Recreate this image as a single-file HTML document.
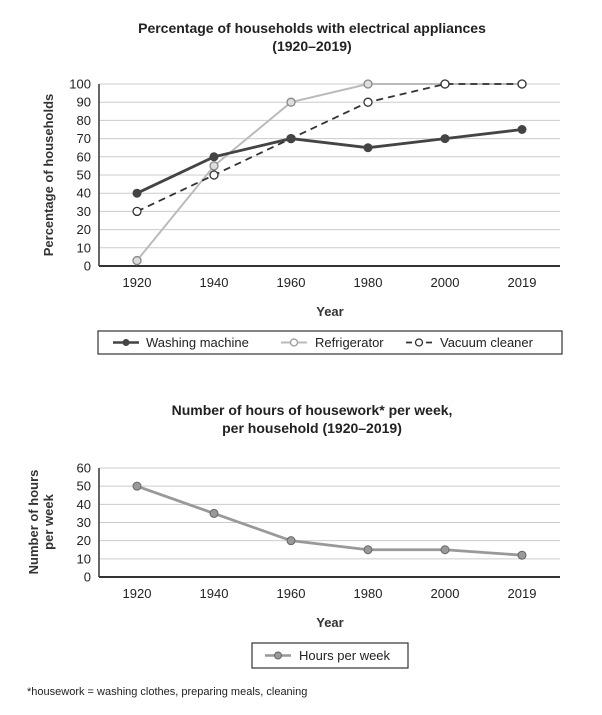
<!DOCTYPE html>
<html><head><meta charset="utf-8"><style>
body{margin:0;background:#fff;}
svg{display:block;font-family:"Liberation Sans",Arial,sans-serif;}
</style></head><body>
<svg id="c" width="602" height="715" viewBox="0 0 602 715">
<text x="312" y="33" text-anchor="middle" font-size="14" font-weight="bold" fill="#222">Percentage of households with electrical appliances</text>
<text x="312" y="51" text-anchor="middle" font-size="14" font-weight="bold" fill="#222">(1920–2019)</text>
<text transform="translate(53,175) rotate(-90)" text-anchor="middle" font-size="13" font-weight="bold" fill="#333">Percentage of households</text>
<text x="330" y="316" text-anchor="middle" font-size="13" font-weight="bold" fill="#333">Year</text>
<g id="topPlot"></g>
<rect x="98" y="331" width="464" height="23" fill="none" stroke="#333" stroke-width="1.2"/>
<g>
<line x1="113" y1="342.5" x2="139" y2="342.5" stroke="#444" stroke-width="2.5"/><circle cx="126" cy="342.5" r="3.5" fill="#444"/>
<text x="146" y="347" font-size="13" fill="#222">Washing machine</text></g>
<g>
<line x1="281" y1="342.5" x2="307" y2="342.5" stroke="#bbb" stroke-width="2"/><circle cx="294" cy="342.5" r="3.5" fill="#fff" stroke="#999" stroke-width="1.3"/>
<text x="315" y="347" font-size="13" fill="#222">Refrigerator</text></g>
<g>
<line x1="406" y1="342.5" x2="432" y2="342.5" stroke="#333" stroke-width="1.8" stroke-dasharray="6,4"/><circle cx="419" cy="342.5" r="3.5" fill="#fff" stroke="#333" stroke-width="1.3"/>
<text x="440" y="347" font-size="13" fill="#222">Vacuum cleaner</text></g>

<text x="312" y="415" text-anchor="middle" font-size="14" font-weight="bold" fill="#222">Number of hours of housework* per week,</text>
<text x="312" y="433" text-anchor="middle" font-size="14" font-weight="bold" fill="#222">per household (1920–2019)</text>
<text transform="translate(38,522) rotate(-90)" text-anchor="middle" font-size="13" font-weight="bold" fill="#333">Number of hours</text>
<text transform="translate(53,522) rotate(-90)" text-anchor="middle" font-size="13" font-weight="bold" fill="#333">per week</text>
<text x="330" y="627" text-anchor="middle" font-size="13" font-weight="bold" fill="#333">Year</text>
<g id="botPlot"></g>
<rect x="252" y="643" width="156" height="25" fill="none" stroke="#333" stroke-width="1.2"/>
<g>
<line x1="265" y1="655.5" x2="291" y2="655.5" stroke="#999" stroke-width="2.5"/><circle cx="278" cy="655.5" r="3.5" fill="#999" stroke="#666" stroke-width="1"/>
<text x="299" y="660" font-size="13" fill="#222">Hours per week</text></g>
<text x="27" y="695" font-size="11" fill="#222">*housework = washing clothes, preparing meals, cleaning</text>
</svg>
<script>
const years = ["1920","1940","1960","1980","2000","2019"];
const washing = [40,60,70,65,70,75];
const fridge = [3,55,90,100,100,100];
const vacuum = [30,50,70,90,100,100];
const topTicks = [0,10,20,30,40,50,60,70,80,90,100];
const hours = [50,35,20,15,15,12];
const botTicks = [0,10,20,30,40,50,60];

const NS="http://www.w3.org/2000/svg";
function mk(p,t,a){const e=document.createElementNS(NS,t);for(const k in a)e.setAttribute(k,a[k]);p.appendChild(e);return e;}
const xs=i=>137+i*77;
function axes(g,y0,y1,vmax,ticks,name){
  const ys=v=>y0-(v/vmax)*(y0-y1);
  ticks.forEach(t=>{
    if(t>0){const l=mk(g,'line',{x1:99,x2:560,y1:ys(t),y2:ys(t),stroke:'#ccc','stroke-width':1});
    
    }
    const tx=mk(g,'text',{x:91,y:ys(t)+4.5,'text-anchor':'end','font-size':13,fill:'#222'});tx.textContent=t;
    
    
  });
  const ax=mk(g,'line',{x1:99,x2:99,y1:y1,y2:y0,stroke:'#333','stroke-width':1.5});
  
  
  const bx=mk(g,'line',{x1:99,x2:560,y1:y0,y2:y0,stroke:'#333','stroke-width':2});
  
  
  years.forEach((y,i)=>{const t=mk(g,'text',{x:xs(i),y:y0+21,'text-anchor':'middle','font-size':13,fill:'#222'});t.textContent=y;
    
    });
  return ys;
}
function series(g,ys,data,name,st,mst){
  const pl=mk(g,'polyline',Object.assign({points:data.map((v,i)=>xs(i)+','+ys(v)).join(' '),fill:'none'},st));
  
  
  data.forEach((v,i)=>{const c=mk(g,'circle',Object.assign({cx:xs(i),cy:ys(v),r:4},mst));
    
    });
}
const gTop=document.getElementById('topPlot');
const ysT=axes(gTop,266,84,100,topTicks,'top');
series(gTop,ysT,fridge,'refrigerator',{stroke:'#bbb','stroke-width':2},{fill:'#ddd',stroke:'#888','stroke-width':1.3});
series(gTop,ysT,vacuum,'vacuum-cleaner',{stroke:'#333','stroke-width':1.8,'stroke-dasharray':'7,5'},{fill:'#fff',stroke:'#333','stroke-width':1.3});
series(gTop,ysT,washing,'washing-machine',{stroke:'#444','stroke-width':2.8},{fill:'#444',stroke:'#444','stroke-width':1});
const gBot=document.getElementById('botPlot');
const ysB=axes(gBot,577,468,60,botTicks,'bottom');
series(gBot,ysB,hours,'hours-per-week',{stroke:'#999','stroke-width':2.8},{fill:'#999',stroke:'#666','stroke-width':1});
</script>
</body></html>
